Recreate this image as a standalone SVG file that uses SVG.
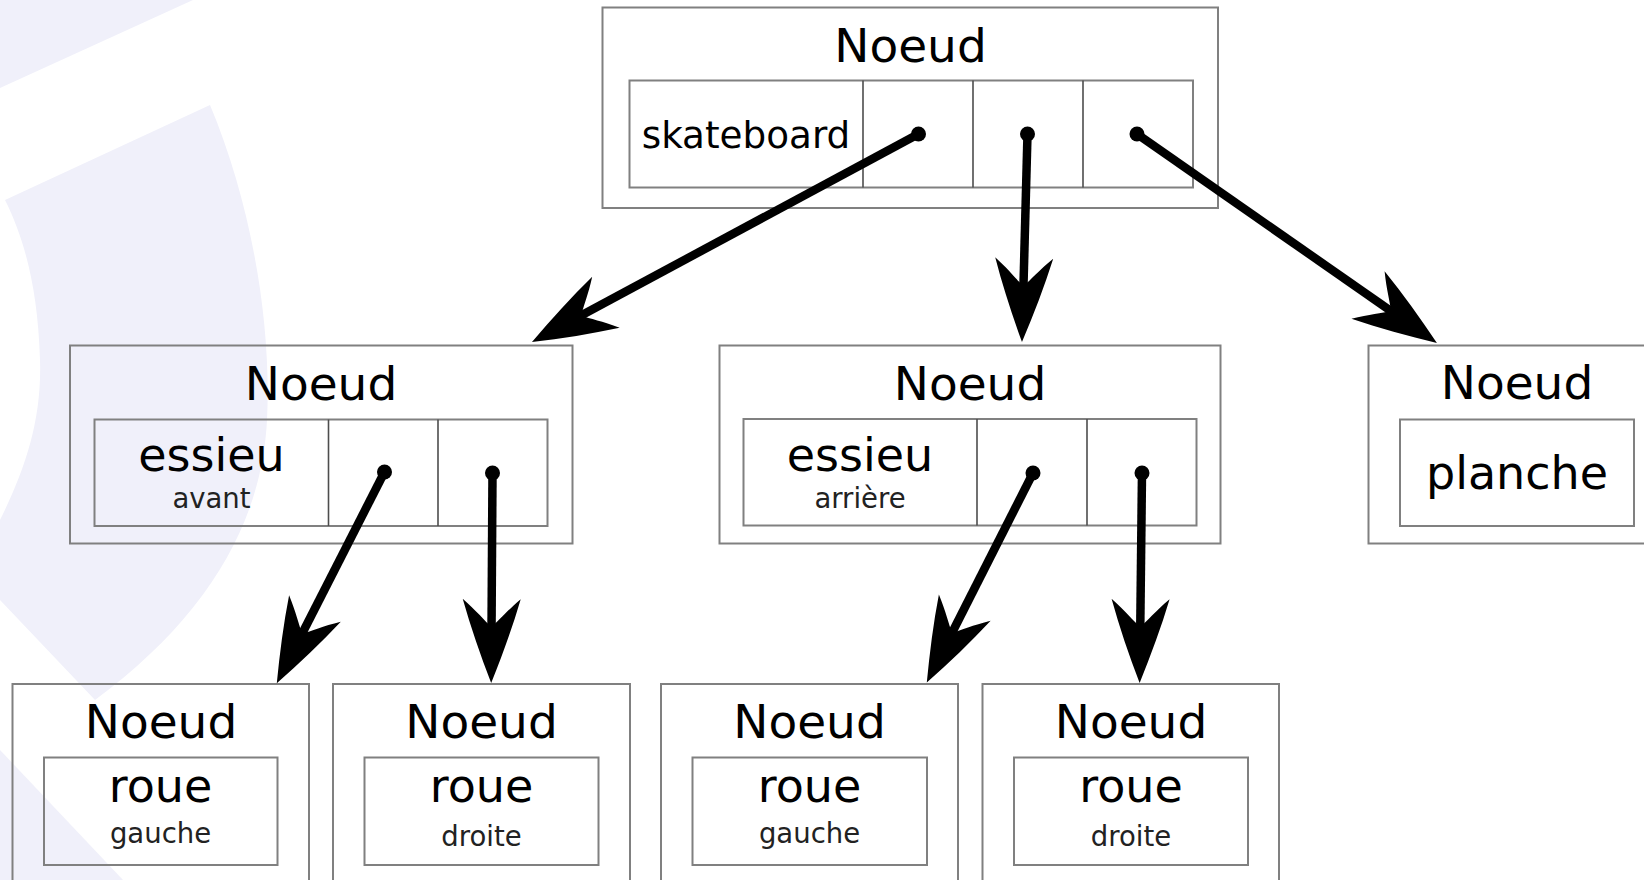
<svg xmlns="http://www.w3.org/2000/svg" width="1644" height="880" viewBox="0 0 1644 880">
  <defs>
    <style>
      .box { fill: none; stroke: #808080; stroke-width: 2; }
      .div { stroke: #4d4d4d; stroke-width: 1.6; }
      .t { font-family: "DejaVu Sans", "Liberation Sans", sans-serif; fill: #000; text-anchor: middle; }
      .big { font-size: 47px; }
      .mid { font-size: 46px; }
      .sk { font-size: 37.3px; }
      .sm { font-size: 27.5px; fill: #222; }
      .wm { fill: #f0f0fa; stroke: none; }
      .edge { stroke: #000; stroke-width: 8.5; fill: none; marker-end: url(#head); }
      .dot { fill: #000; }
    </style>
    <marker id="head" markerUnits="userSpaceOnUse" orient="auto" refX="-50" refY="0" markerWidth="1" markerHeight="1" overflow="visible">
      <path d="M0,0 C-28,-11 -56,-21 -84,-29 C-72,-15 -62,-7 -56,0 C-62,7 -72,15 -84,29 C-56,21 -28,11 0,0 Z" fill="#000"/>
    </marker>
  </defs>

  <rect x="0" y="0" width="1644" height="880" fill="#ffffff"/>

  <g id="watermark">
    <polygon class="wm" points="0,0 193,0 0,88"/>
    <path class="wm" d="M5,200 L210,105 C250,200 272,320 267,420 C262,520 210,615 95,700 L0,600 L0,520 C25,470 42,420 40,360 C38,290 25,240 5,200 Z"/>
    <polygon class="wm" points="0,750 123,880 0,880"/>
  </g>

  <g id="node-skateboard">
    <rect class="box" x="602.5" y="7.5" width="615.5" height="200.5"/>
    <text class="t big" x="910.5" y="62">Noeud</text>
    <rect class="box" x="629.5" y="80.5" width="563.5" height="107"/>
    <line class="div" x1="863" y1="80.5" x2="863" y2="187.5"/>
    <line class="div" x1="973" y1="80.5" x2="973" y2="187.5"/>
    <line class="div" x1="1083" y1="80.5" x2="1083" y2="187.5"/>
    <text class="t sk" x="746" y="148">skateboard</text>
  </g>

  <g id="node-essieu-avant">
    <rect class="box" x="70" y="345.5" width="502.5" height="198"/>
    <text class="t big" x="321" y="400">Noeud</text>
    <rect class="box" x="94.5" y="419.5" width="453" height="106.5"/>
    <line class="div" x1="328.5" y1="419.5" x2="328.5" y2="526"/>
    <line class="div" x1="438" y1="419.5" x2="438" y2="526"/>
    <text class="t mid" x="211.5" y="471">essieu</text>
    <text class="t sm" x="211.5" y="508">avant</text>
  </g>

  <g id="node-essieu-arriere">
    <rect class="box" x="719.5" y="345.5" width="501" height="198"/>
    <text class="t big" x="970" y="400">Noeud</text>
    <rect class="box" x="743.5" y="419" width="453" height="106.5"/>
    <line class="div" x1="977" y1="419" x2="977" y2="525.5"/>
    <line class="div" x1="1087" y1="419" x2="1087" y2="525.5"/>
    <text class="t mid" x="860" y="471">essieu</text>
    <text class="t sm" x="860" y="508">arrière</text>
  </g>

  <g id="node-planche">
    <rect class="box" x="1368.5" y="345.5" width="298" height="198"/>
    <text class="t big" x="1517" y="399">Noeud</text>
    <rect class="box" x="1400" y="419.5" width="234" height="106.5"/>
    <text class="t mid" x="1517" y="489">planche</text>
  </g>

  <g id="node-roue-1">
    <rect class="box" x="12.5" y="684" width="296.5" height="220"/>
    <text class="t big" x="161" y="738">Noeud</text>
    <rect class="box" x="44" y="757.5" width="233.5" height="107.5"/>
    <text class="t mid" x="160.5" y="802">roue</text>
    <text class="t sm" x="160.5" y="843">gauche</text>
  </g>

  <g id="node-roue-2">
    <rect class="box" x="333" y="684" width="297" height="220"/>
    <text class="t big" x="481.5" y="738">Noeud</text>
    <rect class="box" x="364.5" y="757.5" width="234" height="107.5"/>
    <text class="t mid" x="481.5" y="802">roue</text>
    <text class="t sm" x="481.5" y="846">droite</text>
  </g>

  <g id="node-roue-3">
    <rect class="box" x="661" y="684" width="297" height="220"/>
    <text class="t big" x="809.5" y="738">Noeud</text>
    <rect class="box" x="692.5" y="757.5" width="234.5" height="107.5"/>
    <text class="t mid" x="809.5" y="802">roue</text>
    <text class="t sm" x="809.5" y="843">gauche</text>
  </g>

  <g id="node-roue-4">
    <rect class="box" x="982.5" y="684" width="296.5" height="220"/>
    <text class="t big" x="1131" y="738">Noeud</text>
    <rect class="box" x="1014" y="757.5" width="234" height="107.5"/>
    <text class="t mid" x="1131" y="802">roue</text>
    <text class="t sm" x="1131" y="846">droite</text>
  </g>

  <g id="connectors">
    <line class="edge" x1="918.5" y1="134" x2="576" y2="318.3"/>
    <circle class="dot" cx="918.5" cy="134" r="7.5"/>
    <line class="edge" x1="1027.5" y1="134" x2="1023.3" y2="292"/>
    <circle class="dot" cx="1027.5" cy="134" r="7.5"/>
    <line class="edge" x1="1137" y1="134" x2="1395.9" y2="314.5"/>
    <circle class="dot" cx="1137" cy="134" r="7.5"/>
    <line class="edge" x1="384.5" y1="472" x2="299.5" y2="638.8"/>
    <circle class="dot" cx="384.5" cy="472" r="7.5"/>
    <line class="edge" x1="492.5" y1="473" x2="491.5" y2="633"/>
    <circle class="dot" cx="492.5" cy="473" r="7.5"/>
    <line class="edge" x1="1033" y1="473" x2="949.4" y2="638"/>
    <circle class="dot" cx="1033" cy="473" r="7.5"/>
    <line class="edge" x1="1142" y1="473" x2="1140.2" y2="633"/>
    <circle class="dot" cx="1142" cy="473" r="7.5"/>
  </g>
</svg>
